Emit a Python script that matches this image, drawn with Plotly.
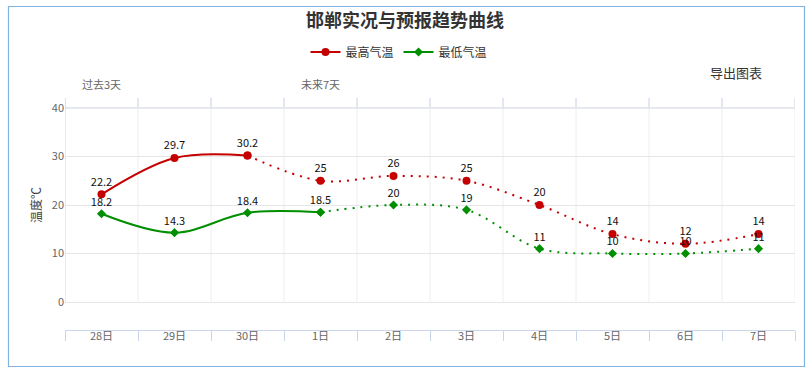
import plotly.graph_objects as go

# ---- data ----
days = ["28日", "29日", "30日", "1日", "2日", "3日", "4日", "5日", "6日", "7日"]
high = [22.2, 29.7, 30.2, 25, 26, 25, 20, 14, 12, 14]
low = [18.2, 14.3, 18.4, 18.5, 20, 19, 11, 10, 10, 11]
high_obs = 3   # first N high values are observed (solid)
low_obs = 4    # first N low values are observed (solid)
period_labels = ["过去3天", "未来7天"]
period_pos = ["28日", "1日"]
yticks = [0, 10, 20, 30, 40]

FONT = "Noto Sans CJK SC, Noto Sans, sans-serif"
RED = "#c40000"
GREEN = "#008f00"
AXIS = "#ccd6eb"
GRID = "#e6e6e6"
VGRID = "#eeeeee"

YMIN, YMAX = -5.77, 42.06

def fmt(v):
    return ("%g" % v)

fig = go.Figure()

def add_series(name, vals, nobs, color, symbol, msize):
    # observed (solid)
    fig.add_trace(go.Scatter(
        x=days[:nobs], y=vals[:nobs], name=name, mode="lines+markers+text",
        line=dict(color=color, width=2, shape="spline", smoothing=1.0),
        marker=dict(color=color, size=msize, symbol=symbol),
        text=[fmt(v) for v in vals[:nobs]], textposition="top center",
        textfont=dict(family=FONT, size=11, color="#111"),
        legendgroup=name, showlegend=True, cliponaxis=False,
    ))
    # forecast (dotted)
    fig.add_trace(go.Scatter(
        x=days[nobs - 1:], y=vals[nobs - 1:], name=name, mode="lines+markers+text",
        line=dict(color=color, width=2, shape="spline", smoothing=1.0, dash="2px,6px"),
        marker=dict(color=color, size=msize, symbol=symbol),
        text=[""] + [fmt(v) for v in vals[nobs:]], textposition="top center",
        textfont=dict(family=FONT, size=11, color="#111"),
        legendgroup=name, showlegend=False, cliponaxis=False,
    ))

add_series("最高气温", high, high_obs, RED, "circle", 8)
add_series("最低气温", low, low_obs, GREEN, "diamond", 7)

shapes = []
n = len(days)
# vertical grid lines from 0 up to top
for i in range(n + 1):
    xb = i - 0.5
    shapes.append(dict(type="line", xref="x", yref="y", x0=xb, x1=xb, y0=0, y1=YMAX,
                       line=dict(color=AXIS if i == 0 else VGRID, width=1), layer="below"))
    # top axis tick marks
    shapes.append(dict(type="line", xref="x", yref="y", x0=xb, x1=xb, y0=40, y1=YMAX,
                       line=dict(color=AXIS, width=1), layer="below"))
# top axis line at 40
shapes.append(dict(type="line", xref="x", yref="y", x0=-0.5, x1=n - 0.5, y0=40, y1=40,
                   line=dict(color=AXIS, width=1), layer="below"))
# outer border
shapes.append(dict(type="rect", xref="paper", yref="paper",
                   x0=(8.5 - 65) / 730, x1=(804.5 - 65) / 730,
                   y0=(330 - 366.5) / 232, y1=(330 - 6.5) / 232,
                   line=dict(color="#7fb2e5", width=1.2), fillcolor="rgba(0,0,0,0)"))

annotations = []
for lab, pos in zip(period_labels, period_pos):
    annotations.append(dict(x=pos, y=(330 - 84) / 232, xref="x", yref="paper", text=lab,
                            showarrow=False, font=dict(family=FONT, size=11, color="#666666"),
                            xanchor="center", yanchor="middle"))
annotations.append(dict(x=(35 - 65) / 730, y=(330 - 205) / 232, xref="paper", yref="paper",
                        text="温度℃", textangle=-90, showarrow=False,
                        font=dict(family=FONT, size=12, color="#444444"),
                        xanchor="center", yanchor="middle"))
annotations.append(dict(x=(736 - 65) / 730, y=(330 - 72) / 232, xref="paper", yref="paper",
                        text="导出图表", showarrow=False,
                        font=dict(family=FONT, size=13, color="#333333"),
                        xanchor="center", yanchor="middle"))

fig.update_layout(
    width=810, height=373,
    margin=dict(l=65, r=15, t=98, b=43),
    paper_bgcolor="white", plot_bgcolor="white",
    font=dict(family=FONT, color="#333333"),
    title=dict(text="<b>邯郸实况与预报趋势曲线</b>", x=0.5, xref="container", xanchor="center",
               y=1 - 21 / 373, yref="container", yanchor="middle",
               font=dict(family=FONT, size=18, color="#333333")),
    legend=dict(orientation="h", x=399 / 810, xref="container", xanchor="center",
                y=1 - 52 / 373, yref="container", yanchor="middle",
                font=dict(family=FONT, size=12, color="#333333"),
                itemwidth=30, bgcolor="rgba(0,0,0,0)"),
    xaxis=dict(type="category", categoryorder="array", categoryarray=days,
               range=[-0.5, n - 0.5], showgrid=False, zeroline=False,
               showline=True, linecolor=AXIS, linewidth=1,
               ticks="outside", ticklen=10, tickcolor=AXIS, tickson="boundaries",
               tickfont=dict(family=FONT, size=11, color="#666666"),
               ticklabelstandoff=-4, fixedrange=True),
    yaxis=dict(range=[YMIN, YMAX], tickvals=yticks, showgrid=True, gridcolor=GRID,
               zeroline=False, showline=False, ticks="",
               tickfont=dict(family=FONT, size=11, color="#666666"), fixedrange=True),
    shapes=shapes, annotations=annotations,
    showlegend=True,
)

fig.write_html("out.html", config={"displayModeBar": False},
               post_script="document.body.style.margin='0';document.body.style.overflow='hidden';")
